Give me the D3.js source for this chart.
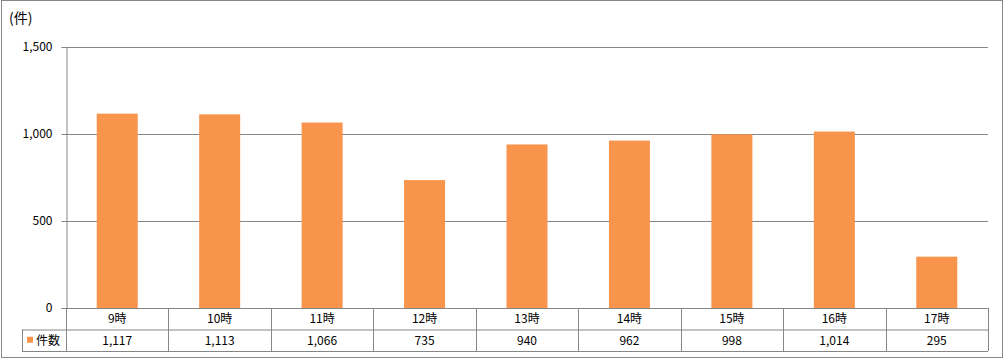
<!DOCTYPE html>
<html><head><meta charset="utf-8">
<script src="https://cdn.jsdelivr.net/npm/d3@7"></script>
<style>body{margin:0;background:#fff}svg{display:block}</style>
</head><body>
<svg id="c" width="1005" height="359"></svg>
<script>
const categories = ["9時","10時","11時","12時","13時","14時","15時","16時","17時"];
const values = [1117,1113,1066,735,940,962,998,1014,295];
const yTicks = [0,500,1000,1500];
const seriesName = "件数";
const unitLabel = "(件)";

(function(){
const svg = d3.select("#c");
const font = "'Noto Sans CJK JP', sans-serif";
const W = 1005, H = 359;
const pLeft = 66, pRight = 988, pTop = 47, pBottom = 308;
const rowH = 21.5;
const barColor = "#F8944C";

svg.append("rect").attr("x",1.5).attr("y",0.5).attr("width",W-4).attr("height",H-2)
  .attr("fill","#fff").attr("stroke","#888").attr("stroke-width",1);

const x = d3.scaleBand().domain(categories).range([pLeft,pRight]).paddingInner(0).paddingOuter(0);
const y = d3.scaleLinear().domain([0,1500]).range([pBottom,pTop]);

svg.append("g").selectAll("line").data(yTicks).join("line")
  .attr("x1",pLeft).attr("x2",pRight)
  .attr("y1",d=>Math.round(y(d))+0.5).attr("y2",d=>Math.round(y(d))+0.5)
  .attr("stroke","#868686").attr("stroke-width",1);

const yAxis = d3.axisLeft(y).tickValues(yTicks).tickSize(5).tickPadding(9)
  .tickFormat(d3.format(","));
const ga = svg.append("g").attr("transform",`translate(${pLeft+0.5},0)`).call(yAxis);
ga.select(".domain").attr("stroke","#868686");
ga.selectAll(".tick line").attr("stroke","#868686");
ga.selectAll("text").attr("font-family",font).attr("font-size",12).attr("fill","#000");

const barW = 41;
svg.append("g").selectAll("rect").data(values).join("rect")
  .attr("x",(d,i)=>x(categories[i])+x.bandwidth()/2-barW/2)
  .attr("y",d=>y(d)).attr("width",barW).attr("height",d=>y(0)-y(d))
  .attr("fill",barColor);

const tg = svg.append("g");
const tleft = 22;
const lc = "#868686";
tg.append("line").attr("x1",tleft).attr("x2",pRight).attr("y1",pBottom+rowH+0.5).attr("y2",pBottom+rowH+0.5).attr("stroke",lc);
tg.append("line").attr("x1",tleft).attr("x2",pRight).attr("y1",pBottom+2*rowH+0.5).attr("y2",pBottom+2*rowH+0.5).attr("stroke",lc);
tg.append("line").attr("x1",pLeft).attr("x2",pRight).attr("y1",pBottom+0.5).attr("y2",pBottom+0.5).attr("stroke",lc);
tg.append("line").attr("x1",tleft+0.5).attr("x2",tleft+0.5).attr("y1",pBottom+rowH).attr("y2",pBottom+2*rowH).attr("stroke",lc);
const vx = categories.map(c=>x(c)).concat([pRight]);
tg.selectAll("line.v").data(vx).join("line").attr("class","v")
  .attr("x1",d=>Math.round(d)+0.5).attr("x2",d=>Math.round(d)+0.5)
  .attr("y1",pBottom).attr("y2",pBottom+2*rowH).attr("stroke",lc);

tg.selectAll("text.cat").data(categories).join("text").attr("class","cat")
  .attr("x",d=>x(d)+x.bandwidth()/2).attr("y",pBottom+rowH/2+4.5)
  .attr("text-anchor","middle").attr("font-family",font).attr("font-size",12).text(d=>d);
tg.selectAll("text.val").data(values).join("text").attr("class","val")
  .attr("x",(d,i)=>x(categories[i])+x.bandwidth()/2).attr("y",pBottom+rowH*1.5+4.5)
  .attr("text-anchor","middle").attr("font-family",font).attr("font-size",12).text(d=>d3.format(",")(d));

tg.append("rect").attr("x",27).attr("y",pBottom+rowH*1.5-3.5).attr("width",6).attr("height",6).attr("fill",barColor);
tg.append("text").attr("x",36).attr("y",pBottom+rowH*1.5+4.5).attr("font-family",font).attr("font-size",12).text(seriesName);

svg.append("text").attr("x",9).attr("y",23).attr("font-family",font).attr("font-size",14).text(unitLabel);
})();
</script>
</body></html>
